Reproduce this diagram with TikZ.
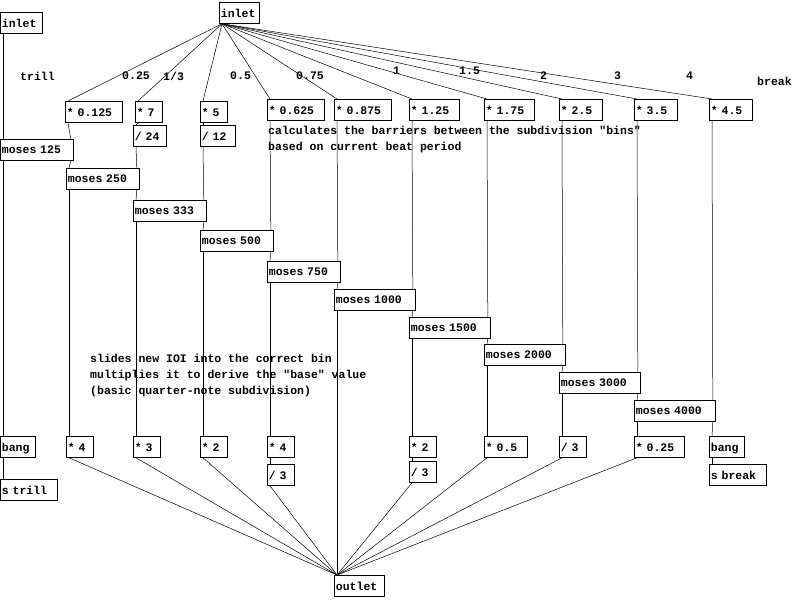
\documentclass[tikz,border=0pt]{standalone}
\usepackage{fontspec}
\setmonofont{Liberation Mono}
\begin{document}
\begin{tikzpicture}[x=1pt,y=-1pt,
  pd/.style={draw,line width=0.8pt,anchor=north west,minimum height=21pt,inner sep=1.5pt,align=left,font=\ttfamily\bfseries\fontsize{11.5}{12}\selectfont,text depth=0pt},
  cmt/.style={anchor=north west,inner sep=0pt,font=\ttfamily\bfseries\fontsize{11.5}{16}\selectfont,align=left},
  w/.style={line width=0.5pt}]
\useasboundingbox (0,0) rectangle (799,599);
\newcommand\pdb[5]{\node[pd,minimum width=#4pt,text width=#4pt-3pt] (#1) at (#2,#3) {#5};}
\pdb{inL}{0}{12}{42}{inlet}
\pdb{inT}{219}{2}{40}{inlet}
\pdb{m0}{65}{101}{57}{* 0.125}
\pdb{m1}{135}{101}{27}{* 7}
\pdb{m2}{200}{101}{27}{* 5}
\pdb{m3}{267}{99}{57}{* 0.625}
\pdb{m4}{334}{99}{57}{* 0.875}
\pdb{m5}{409}{99}{50}{* 1.25}
\pdb{m6}{484}{99}{50}{* 1.75}
\pdb{m7}{559}{99}{43}{* 2.5}
\pdb{m8}{634}{99}{43}{* 3.5}
\pdb{m9}{709}{99}{43}{* 4.5}
\pdb{d1}{133}{125}{33}{/ 24}
\pdb{d2}{200}{125}{35}{/ 12}
\pdb{s0}{0}{139}{73}{moses 125}
\pdb{s1}{66}{168}{73}{moses 250}
\pdb{s2}{133}{200}{73}{moses 333}
\pdb{s3}{200}{230}{73}{moses 500}
\pdb{s4}{267}{261}{73}{moses 750}
\pdb{s5}{334}{289}{81}{moses 1000}
\pdb{s6}{409}{317}{81}{moses 1500}
\pdb{s7}{484}{344}{81}{moses 2000}
\pdb{s8}{559}{372}{81}{moses 3000}
\pdb{s9}{634}{400}{81}{moses 4000}
\pdb{bg1}{0}{436}{35}{bang}
\pdb{b1}{66}{436}{27}{* 4}
\pdb{b2}{133}{436}{27}{* 3}
\pdb{b3}{200}{436}{27}{* 2}
\pdb{b4}{267}{436}{27}{* 4}
\pdb{b4d}{267}{464}{27}{/ 3}
\pdb{b6}{409}{436}{27}{* 2}
\pdb{b6d}{409}{461}{27}{/ 3}
\pdb{b7}{484}{436}{43}{* 0.5}
\pdb{b8}{559}{436}{27}{/ 3}
\pdb{b9}{634}{436}{50}{* 0.25}
\pdb{bg2}{709}{436}{35}{bang}
\pdb{st}{0}{479}{57}{s trill}
\pdb{sb}{709}{464}{57}{s break}
\pdb{out}{334}{575}{50}{outlet}
% labels
\node[cmt] (l0) at (20,72) {trill};
\node[cmt] (l1) at (122,72) {0.25};
\node[cmt] (l2) at (163,72) {1/3};
\node[cmt] (l3) at (230,72) {0.5};
\node[cmt] (l4) at (296,72) {0.75};
\node[cmt] (l5) at (393,67) {1};
\node[cmt] (l6) at (459,67) {1.5};
\node[cmt] (l7) at (540,72) {2};
\node[cmt] (l8) at (614,72) {3};
\node[cmt] (l9) at (686,72) {4};
\node[cmt] (l10) at (757,77) {break};
\node[cmt] (c1) at (268,126) {calculates the barriers between the subdivision "bins"\\based on current beat period};
\node[cmt] (c2) at (90,354) {slides new IOI into the correct bin\\multiplies it to derive the "base" value\\(basic quarter-note subdivision)};
% connections
\newcommand\Lo[1]{([xshift=3pt]#1.south west)}
\newcommand\Ro[1]{([xshift=-3pt]#1.south east)}
\newcommand\Li[1]{([xshift=3pt]#1.north west)}
\newcommand\Ri[1]{([xshift=-3pt]#1.north east)}
\foreach \n in {m0,m1,m2,m3,m4,m5,m6,m7,m8,m9}{\draw[w] \Lo{inT} -- \Li{\n};}
\draw[w] \Lo{inL} -- \Li{s0};
\draw[w] \Lo{s0} -- \Li{bg1};
\draw[w] \Lo{bg1} -- \Li{st};
\draw[w] \Lo{m0} -- \Ri{s0};
\draw[w] \Lo{m1} -- \Li{d1};
\draw[w] \Lo{m2} -- \Li{d2};
\draw[w] \Lo{d1} -- \Ri{s1};
\draw[w] \Lo{d2} -- \Ri{s2};
\draw[w] \Lo{m3} -- \Ri{s3};
\draw[w] \Lo{m4} -- \Ri{s4};
\draw[w] \Lo{m5} -- \Ri{s5};
\draw[w] \Lo{m6} -- \Ri{s6};
\draw[w] \Lo{m7} -- \Ri{s7};
\draw[w] \Lo{m8} -- \Ri{s8};
\draw[w] \Lo{m9} -- \Ri{s9};
\draw[w] \Ro{s0} -- \Li{s1};
\draw[w] \Ro{s1} -- \Li{s2};
\draw[w] \Ro{s2} -- \Li{s3};
\draw[w] \Ro{s3} -- \Li{s4};
\draw[w] \Ro{s4} -- \Li{s5};
\draw[w] \Ro{s5} -- \Li{s6};
\draw[w] \Ro{s6} -- \Li{s7};
\draw[w] \Ro{s7} -- \Li{s8};
\draw[w] \Ro{s8} -- \Li{s9};
\draw[w] \Ro{s9} -- \Li{bg2};
\draw[w] \Lo{bg2} -- \Li{sb};
\draw[w] \Lo{s1} -- \Li{b1};
\draw[w] \Lo{s2} -- \Li{b2};
\draw[w] \Lo{s3} -- \Li{b3};
\draw[w] \Lo{s4} -- \Li{b4};
\draw[w] \Lo{b4} -- \Li{b4d};
\draw[w] \Lo{s5} -- \Li{out};
\draw[w] \Lo{s6} -- \Li{b6};
\draw[w] \Lo{b6} -- \Li{b6d};
\draw[w] \Lo{s7} -- \Li{b7};
\draw[w] \Lo{s8} -- \Li{b8};
\draw[w] \Lo{s9} -- \Li{b9};
\foreach \n in {b1,b2,b3,b4d,b6d,b7,b8,b9}{\draw[w] \Lo{\n} -- \Li{out};}
\end{tikzpicture}
\end{document}
